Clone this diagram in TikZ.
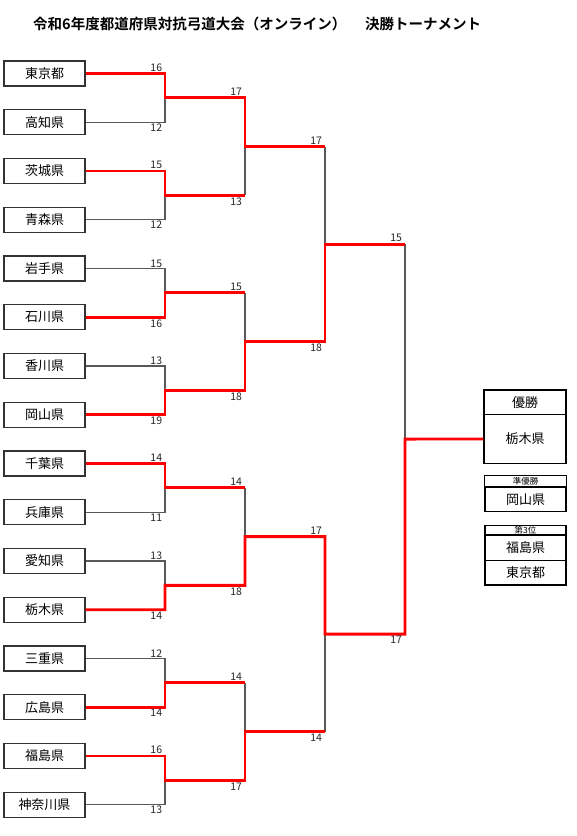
\documentclass[tikz,border=0pt]{standalone}
\usepackage{fontspec}
\newfontfamily\jp{Noto Sans CJK JP}[BoldFont={Noto Sans CJK JP Bold}]
\begin{document}
\begin{tikzpicture}[x=1pt,y=-1pt,
  team/.style={draw=black!80, line width=1.2pt, fill=white, minimum width=81pt, minimum height=25pt, inner sep=0pt, font=\jp\fontsize{13}{15}\selectfont},
  rbox/.style={draw=black, line width=1.5pt, minimum width=82pt, inner sep=0pt, font=\jp\fontsize{13}{15}\selectfont},
  rsmall/.style={rbox, font=\jp\fontsize{8.5}{9}\selectfont},
  win/.style={draw=red, line width=2.8pt},
  lose/.style={draw=black!65, line width=1.1pt},
  sc/.style={font=\jp\fontsize{10.5}{12}\selectfont, inner sep=0.8pt, text=black!85},
  ttl/.style={font=\jp\bfseries\fontsize{14.5}{17}\selectfont, inner sep=0pt, anchor=west}
]
\useasboundingbox (0,0) rectangle (577,836);

% title
\node[ttl] (title1) at (33,24) {令和6年度都道府県対抗弓道大会（オンライン）};
\node[ttl] (title2) at (365,24) {決勝トーナメント};

% teams
\node[team] (tokyo)     at (44.5,73.5)   {東京都};
\node[team] (kochi)     at (44.5,122.25) {高知県};
\node[team] (ibaraki)   at (44.5,171)    {茨城県};
\node[team] (aomori)    at (44.5,219.75) {青森県};
\node[team] (iwate)     at (44.5,268.5)  {岩手県};
\node[team] (ishikawa)  at (44.5,317.25) {石川県};
\node[team] (kagawa)    at (44.5,366)    {香川県};
\node[team] (okayama)   at (44.5,414.75) {岡山県};
\node[team] (chiba)     at (44.5,463.5)  {千葉県};
\node[team] (hyogo)     at (44.5,512.25) {兵庫県};
\node[team] (aichi)     at (44.5,561)    {愛知県};
\node[team] (tochigi)   at (44.5,609.75) {栃木県};
\node[team] (mie)       at (44.5,658.5)  {三重県};
\node[team] (hiroshima) at (44.5,707.25) {広島県};
\node[team] (fukushima) at (44.5,756)    {福島県};
\node[team] (kanagawa)  at (44.5,804.75) {神奈川県};

% result boxes
\node[rbox, minimum height=24.5pt] (yushohead) at (525,402.25) {優勝};
\node[rbox, minimum height=48.8pt] (champ) at (525,438.9) {栃木県};
\node[rsmall, minimum height=11.5pt] (junhead) at (525.5,481.25) {準優勝};
\node[rbox, minimum height=24.7pt, minimum width=81pt] (runner) at (525.5,499.35) {岡山県};
\node[rsmall, minimum height=9.7pt, minimum width=81pt] (thirdhead) at (525.5,530.15) {第3位};
\node[rbox, minimum height=25.3pt, minimum width=81pt] (thirda) at (525.5,547.65) {福島県};
\node[rbox, minimum height=24.7pt, minimum width=81pt] (thirdb) at (525.5,572.65) {東京都};

% bracket joints
\coordinate (a0) at (165,97.875);
\coordinate (a1) at (165,195.375);
\coordinate (a2) at (165,292.875);
\coordinate (a3) at (165,390.375);
\coordinate (a4) at (165,487.875);
\coordinate (a5) at (165,585.375);
\coordinate (a6) at (165,682.875);
\coordinate (a7) at (165,780.375);
\coordinate (b0) at (245,146.625);
\coordinate (b1) at (245,341.625);
\coordinate (b2) at (245,536.625);
\coordinate (b3) at (245,731.625);
\coordinate (c0) at (325,244.125);
\coordinate (c1) at (325,634.125);
\coordinate (d)  at (405,439.125);

% losing lines
\draw[lose] (kochi.east) -| node[sc,pos=.445,below]{12} (a0);
\draw[lose] (aomori.east) -| node[sc,pos=.445,below]{12} (a1);
\draw[lose] (iwate.east) -| node[sc,pos=.445,above]{15} (a2);
\draw[lose] (kagawa.east) -| node[sc,pos=.445,above]{13} (a3);
\draw[lose] (hyogo.east) -| node[sc,pos=.445,below]{11} (a4);
\draw[lose] (aichi.east) -| node[sc,pos=.445,above]{13} (a5);
\draw[lose] (mie.east) -| node[sc,pos=.445,above]{12} (a6);
\draw[lose] (kanagawa.east) -| node[sc,pos=.445,below]{13} (a7);
\draw[lose] (a1 -| b0) -- (b0);
\draw[lose] (a2 -| b1) -- (b1);
\draw[lose] (a4 -| b2) -- (b2);
\draw[lose] (a6 -| b3) -- (b3);
\draw[lose] (b0 -| c0) -- (c0);
\draw[lose] (b3 -| c1) -- (c1);
\draw[lose] (c0 -| d) -- (d);

% winning lines
\draw[win] (tokyo.east) -| node[sc,pos=.445,above]{16} (a0)
  -| node[sc,pos=.445,above]{17} (b0)
  -- node[sc,pos=.89,above]{17} (b0 -| c0);
\draw[win] (ibaraki.east) -| node[sc,pos=.445,above]{15} (a1)
  -- node[sc,pos=.89,below]{13} (a1 -| b0);
\draw[win] (ishikawa.east) -| node[sc,pos=.445,below]{16} (a2)
  -- node[sc,pos=.89,above]{15} (a2 -| b1);
\draw[win] (okayama.east) -| node[sc,pos=.445,below]{19} (a3)
  -| node[sc,pos=.445,below]{18} (b1)
  -| node[sc,pos=.445,below]{18} (c0)
  -- node[sc,pos=.89,above]{15} (c0 -| d);
\draw[win] (chiba.east) -| node[sc,pos=.445,above]{14} (a4)
  -- node[sc,pos=.89,above]{14} (a4 -| b2);
\draw[win] (tochigi.east) -| node[sc,pos=.445,below]{14} (a5)
  -| node[sc,pos=.445,below]{18} (b2)
  -| node[sc,pos=.445,above]{17} (c1)
  -| node[sc,pos=.445,below]{17} (d)
  -- (champ.west);
\draw[win] (hiroshima.east) -| node[sc,pos=.445,below]{14} (a6)
  -- node[sc,pos=.89,above]{14} (a6 -| b3);
\draw[win] (fukushima.east) -| node[sc,pos=.445,above]{16} (a7)
  -| node[sc,pos=.445,below]{17} (b3)
  -- node[sc,pos=.89,below]{14} (b3 -| c1);
\end{tikzpicture}
\end{document}
